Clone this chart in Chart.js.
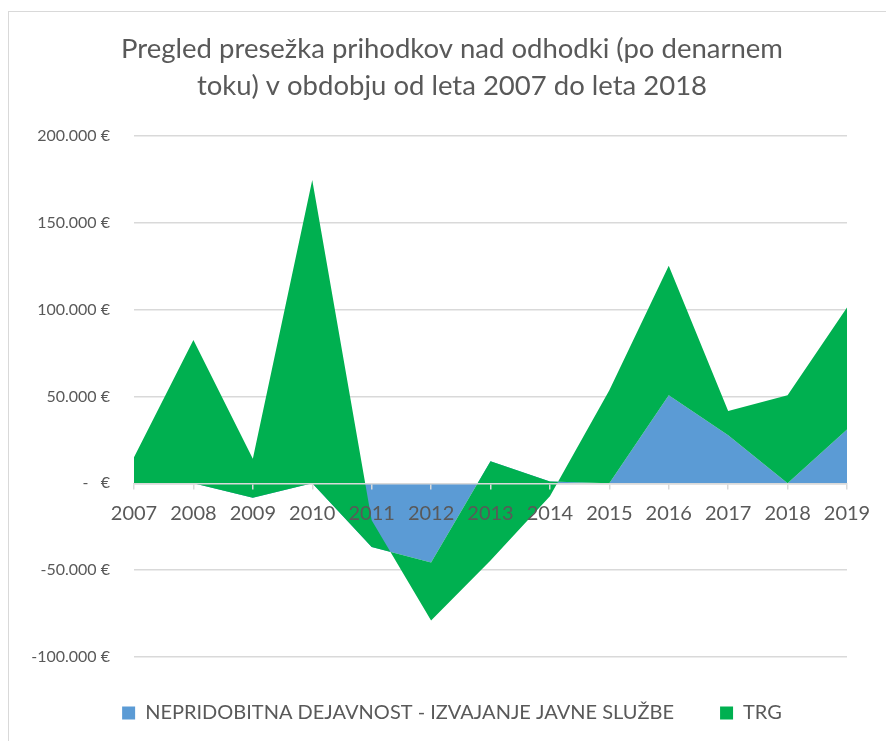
<!DOCTYPE html>
<html>
<head>
<meta charset="utf-8">
<script src="https://cdn.jsdelivr.net/npm/chart.js@4/dist/chart.umd.min.js"></script>
<style>
  html, body { margin: 0; padding: 0; background: #fff; overflow: hidden; }
  #frame { position: absolute; left: 8px; top: 11px; width: 900px; height: 800px; border: 1px solid #d9d9d9; }
  #chart { position: absolute; left: 0; top: 0; }
</style>
</head>
<body>
<div id="frame"></div>
<canvas id="chart" width="886" height="741"></canvas>
<script>
const years = ["2007", "2008", "2009", "2010", "2011", "2012", "2013", "2014", "2015", "2016", "2017", "2018", "2019"];
const seriesNames = ["NEPRIDOBITNA DEJAVNOST - IZVAJANJE JAVNE SLUŽBE", "TRG"];
// stacked area: nepridobitna at the bottom, trg on top of it
const nepridobitna = [0, 0, -8300, 0, -36700, -45600, 12700, 1000, 0, 50700, 27700, 0, 31000];
const trg = [15000, 82500, 22500, 174700, 15400, -33400, -57100, -8500, 53600, 74600, 14000, 50700, 70300];
const yTickValues = [-100000, -50000, 0, 50000, 100000, 150000, 200000];
const titleLines = ["Pregled presežka prihodkov nad odhodki (po denarnem", "toku) v obdobju od leta 2007 do leta 2018"];

// upper edge of the trg band = running sum of both series
const trgTop = nepridobitna.map((v, i) => v + trg[i]);

function formatEuro(v) {
    if (v === 0) return "-   €";
    const s = String(Math.abs(v)).replace(/\B(?=(\d{3})+(?!\d))/g, ".");
    return (v < 0 ? "-" : "") + s + " €";
}

const FONT = "Lato";
const GREY = "#595959";
const GRID = "#d9d9d9";

new Chart(document.getElementById("chart").getContext("2d"), {
    type: "line",
    data: {
        labels: years,
        datasets: [
            {
                label: seriesNames[1],
                data: trgTop,
                backgroundColor: "#00B050",
                borderColor: "transparent",
                borderWidth: 0,
                pointRadius: 0,
                tension: 0,
                fill: 1
            },
            {
                label: seriesNames[0],
                data: nepridobitna,
                backgroundColor: "#5B9BD5",
                borderColor: "transparent",
                borderWidth: 0,
                pointRadius: 0,
                tension: 0,
                fill: "origin"
            }
        ]
    },
    options: {
        responsive: false,
        animation: false,
        layout: { padding: { left: 31, right: 13, top: 0, bottom: 8 } },
        plugins: {
            tooltip: { enabled: false },
            title: {
                display: true,
                text: titleLines,
                color: GREY,
                font: { family: FONT, size: 27.5, weight: "normal", lineHeight: 1.345 },
                padding: { top: 31, bottom: 31 }
            },
            legend: {
                position: "bottom",
                reverse: true,
                labels: {
                    color: GREY,
                    font: { family: FONT, size: 20 },
                    boxWidth: 13,
                    boxHeight: 13,
                    padding: 46
                }
            }
        },
        scales: {
            x: {
                position: { y: 0 },
                grid: { z: 1, drawOnChartArea: false, drawTicks: true, tickLength: 5, color: GRID, lineWidth: 1.5 },
                border: { z: 1, display: true, color: GRID, width: 1.5 },
                ticks: { z: 1, color: GREY, font: { family: FONT, size: 20 }, padding: 13, maxRotation: 0, autoSkip: false },
                afterFit: (s) => { s.paddingLeft = 0; s.paddingRight = 39; }
            },
            y: {
                min: -100000,
                max: 200000,
                afterBuildTicks: (s) => { s.ticks = yTickValues.map((v) => ({ value: v })); },
                grid: { color: GRID, lineWidth: 1.5, drawTicks: false },
                border: { display: false },
                ticks: { color: GREY, font: { family: FONT, size: 16 }, padding: 24, callback: formatEuro },
                afterFit: (s) => { s.width = 103; }
            }
        }
    }
});
</script>
</body>
</html>
